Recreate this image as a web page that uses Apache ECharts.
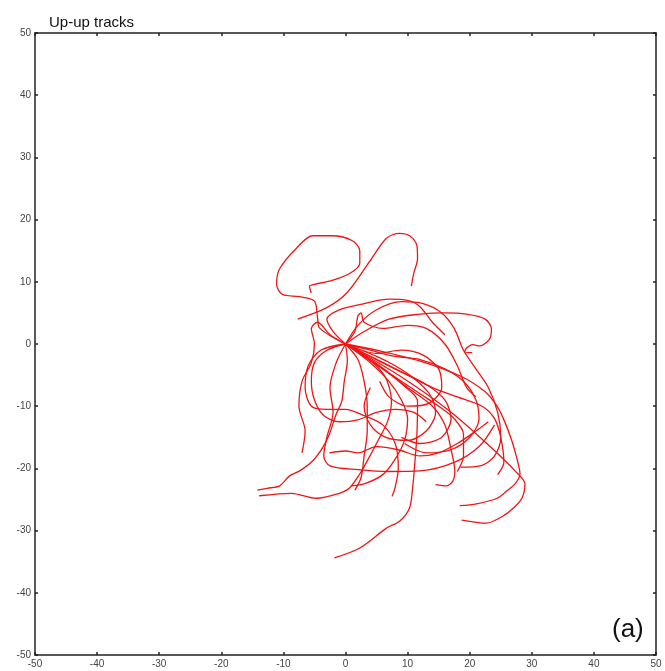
<!DOCTYPE html>
<html>
<head>
<meta charset="utf-8">
<script src="https://cdn.jsdelivr.net/npm/echarts@6/dist/echarts.min.js"></script>
<style>
  html, body { margin: 0; padding: 0; background: #fff; }
  #chart { width: 665px; height: 671px; }
</style>
</head>
<body>
<div id="chart"></div>
<script>
// track coordinates (x, y)
var track01 = [[0,0],[-4.2,2.6],[-4.5,4.2],[-5,6.9],[-7.4,7.6],[-10.2,8.0],[-11.1,9.6],[-10.6,12.1],[-7.9,15.4],[-5.3,17.4],[-2.1,17.4],[1.1,16.6],[2.3,15.0],[2.3,13.0],[0.6,11.3],[-2.6,10.1],[-5.0,9.6],[-5.8,9.3],[-5.5,8.2]];
var track02 = [[-7.7,4.0],[-3.1,5.8],[0.2,8.2],[3.9,13.3],[6.6,17.0],[8.7,17.8],[10.3,17.4],[11.5,15.8],[11.6,13.7],[11.0,11.4],[10.6,9.3]];
var track03 = [[0,0],[0.3,-2.7],[-0.2,-6],[-0.6,-9.2],[-1.5,-11.3],[-2.6,-14.5],[-3.7,-16.7],[-5.3,-18.8],[-7.4,-20.4],[-9,-21.2],[-10.6,-22.8],[-12.6,-23.2],[-14.2,-23.5]];
var track04 = [[-13.9,-24.4],[-8.7,-24],[-4.7,-24.8],[-1,-24],[0.6,-23.2],[2.3,-20.9],[3.5,-18.8],[5.2,-15.6],[6.8,-12.4],[7.4,-9.2],[6.3,-5.1],[3.1,-1.9],[0,0]];
var track05 = [[0,0],[5.5,-3.5],[9.5,-6.8],[11.6,-9.2],[11.5,-14.5],[11.1,-19.9],[10.8,-23.2],[10.3,-26.4],[8.7,-28.5],[6.6,-29.6],[2.3,-32.8],[-1.8,-34.4]];
var track06 = [[0,0],[8.7,-5.1],[16.8,-10.8],[23.2,-16.4],[27.3,-20.4],[28.9,-22.5],[28.4,-24.8],[27,-26.4],[25.3,-27.7],[22.7,-28.8],[18.7,-28.3]];
var track07 = [[18.4,-26],[21.1,-25.7],[24.4,-24.8],[26,-23.6],[27.3,-22.5],[28.1,-20.9],[27.7,-18.8],[26.8,-15.6],[25.6,-12.4],[24.4,-10],[22.4,-7.6],[18.4,-5.1],[11.9,-2.7],[5.5,-1.1],[0,0]];
var track08 = [[0,0],[3,2],[7,4],[12,4.8],[16,5],[19.5,4.8],[22.5,4],[23.5,2.4],[23.2,0.8],[21.6,-0.3],[20.5,-0.1],[19.8,-0.4],[19.2,-1.2],[20.4,-1.4]];
var track09 = [[0,0],[2,3],[5,5.5],[9,6.8],[12.5,6.5],[15.5,5],[17.5,2.5],[19,-1],[21,-4],[23,-7],[24.5,-11],[25,-15],[24,-18],[22,-19.5],[18.5,-19.8]];
var track10 = [[0,0],[-3,-1],[-5,-3],[-5.5,-6],[-5,-9],[-3.5,-11.5],[-1,-12.5],[2,-12.2],[5,-11],[8,-10.5],[11,-11],[13,-12.5]];
var track11 = [[0,0],[4,-1],[8,-2],[12,-2.5],[16,-4],[19,-6],[21,-9],[21.5,-12],[20,-15],[17,-17],[13,-17.5],[9.5,-16]];
var track12 = [[0,0],[3,-2],[6,-4],[9,-6],[12,-8],[15,-10],[17.5,-12],[19,-14.5],[19,-18],[18,-20.5]];
var track13 = [[0,0],[2,-2.5],[3,-6],[3.5,-10],[3.5,-14],[3,-18],[2.5,-21.5],[1.5,-23.5]];
var track14 = [[0,0],[-1.5,-3],[-2.5,-7],[-2,-11],[-3,-15],[-3.5,-18],[-2.5,-19.6],[2,-20.2],[7,-20.5],[12,-20.4],[17.6,-19],[21.6,-16.4],[24,-13]];
var track15 = [[0,0],[5,-2],[8,-3.5],[11,-5.5],[13.5,-8],[14.5,-11],[13,-14],[10,-15.5],[6.5,-15],[4,-13],[3,-10],[4,-7]];
var track16 = [[0,0],[6,-3],[10,-5],[14,-7],[18,-8.5],[22,-10],[24,-12],[25,-15],[25.5,-19],[24.5,-21]];
var track17 = [[0,0],[-2,2],[-3,4],[-1,5.5],[3,6.5],[7,7.2],[10,7],[12,6],[14,3.5],[16,1.5]];
var track18 = [[0,0],[-4,-1],[-6,-3.5],[-6.5,-7],[-5.5,-10],[-3,-10.5],[0,-10.5],[3,-11.5],[6,-13],[8,-16],[8.5,-20],[8,-23],[7.5,-24.5]];
var track19 = [[0,0],[6,-4],[10,-7],[14,-10],[16,-13],[17,-17],[17.6,-20.4],[17.3,-22],[16.3,-22.8],[14.5,-22.6]];
var track20 = [[0,0],[4,-3],[7,-6],[9,-9],[10,-12],[9.5,-15.5],[8,-18.5],[6,-21],[3,-22.5],[1,-22.8]];
var track21 = [[0,0],[8,-4],[13,-6.5],[16,-9],[17,-12],[15.5,-15],[12,-16],[9,-15]];
var track22 = [[0,0],[1.5,2],[2,4.5],[2.5,5],[3,3.5],[6,2.5],[10,3],[13,2.5],[16,0],[18,-3.5],[19.5,-7],[21,-8.5]];
var track23 = [[0,0],[-2.5,1.5],[-4.5,3.5],[-5.5,2.5],[-5,0],[-5.5,-3],[-7,-6],[-7.5,-10],[-6.5,-14],[-7,-17.5]];
var track24 = [[0,0],[5,-1.5],[9,-1],[12.5,-1.8],[15,-4],[15.5,-7],[13.5,-9.5],[10,-10],[7,-8.5],[5.5,-6]];
var track25 = [[-2.6,-17.5],[0,-17.2],[2,-17.5],[5,-16.5],[8.5,-17],[12,-18],[15,-17.5],[18,-16],[21,-14],[23,-12.5]];

var tracks = [track01, track02, track03, track04, track05, track06, track07, track08, track09, track10,
  track11, track12, track13, track14, track15, track16, track17, track18, track19, track20,
  track21, track22, track23, track24, track25];

var ticks = [-50, -40, -30, -20, -10, 0, 10, 20, 30, 40, 50];

var chart = echarts.init(document.getElementById('chart'));

var font = 'Liberation Sans, Arial, sans-serif';

function axisBase(pos, showLabel) {
  return {
    type: 'value',
    position: pos,
    min: ticks[0],
    max: ticks[ticks.length - 1],
    interval: 10,
    axisLine: { show: true, onZero: false, lineStyle: { color: '#222', width: 1.5 } },
    axisTick: { show: true, inside: true, length: 3, lineStyle: { color: '#222', width: 1.5 } },
    axisLabel: { show: showLabel, color: '#444', fontSize: 10, fontFamily: font, margin: 4 },
    splitLine: { show: false }
  };
}

var series = [];
for (var i = 0; i < tracks.length; i++) {
  series.push({
    type: 'line',
    data: tracks[i],
    xAxisIndex: 0,
    yAxisIndex: 0,
    showSymbol: false,
    smooth: 0.3,
    lineStyle: { color: '#f01414', width: 1.3 },
    silent: true,
    animation: false
  });
}

var option = {
  animation: false,
  title: [
    { text: 'Up-up tracks', left: 44, top: 10,
      textStyle: { fontSize: 15, fontWeight: 'normal', color: '#111', fontFamily: font } },
    { text: '(a)', left: 607, top: 612,
      textStyle: { fontSize: 26, fontWeight: 'normal', color: '#111', fontFamily: font } }
  ],
  grid: { left: 35, right: 9, top: 33, bottom: 16, containLabel: false },
  xAxis: [axisBase('bottom', true), axisBase('top', false)],
  yAxis: [axisBase('left', true), axisBase('right', false)],
  series: series
};

chart.setOption(option);
</script>
</body>
</html>
